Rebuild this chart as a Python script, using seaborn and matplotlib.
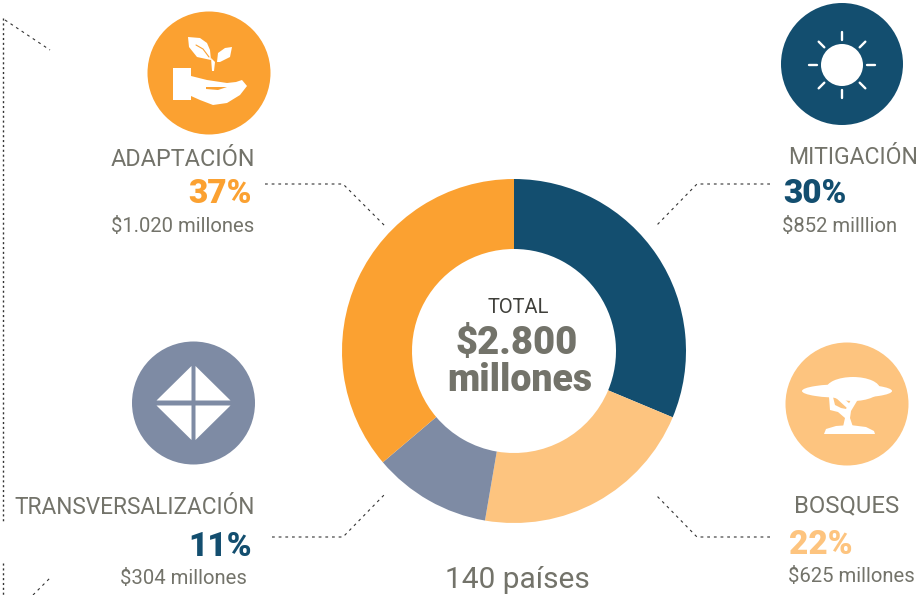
import matplotlib
matplotlib.use("Agg")
import matplotlib.pyplot as plt
from matplotlib.patches import Circle, Ellipse, Polygon
import numpy as np
import seaborn as sns

# Values, clockwise from the top
categories = ["MITIGACIÓN", "BOSQUES", "TRANSVERSALIZACIÓN", "ADAPTACIÓN"]
wedge_shares = [31.3, 21.4, 11.1, 36.2]  # as drawn, slightly off the printed percentages
percents = ["30%", "22%", "11%", "37%"]
amount_labels = ["$852 milllion", "$625 millones", "$304 millones", "$1.020 millones"]
total_label = "$2.800"
total_unit = "millones"
countries_label = "140 países"

NAVY = "#134e6f"
LIGHT = "#fdc47f"
SLATE = "#7e8ba4"
ORANGE = "#fba131"
GREY = "#73736a"
colors = [NAVY, LIGHT, SLATE, ORANGE]

sns.set_theme(style="white")
plt.rcParams["font.family"] = ["Roboto", "DejaVu Sans"]

W, H = 920, 595
fig = plt.figure(figsize=(W / 100, H / 100), dpi=100, facecolor="white")

# Donut
cx, cy, radius = 514, 351, 172
ax_pie = fig.add_axes([(cx - radius) / W, 1 - (cy + radius) / H, 2 * radius / W, 2 * radius / H])
ax_pie.pie(wedge_shares, colors=colors, startangle=90, counterclock=False, radius=1,
           wedgeprops=dict(width=70 / 172, linewidth=0))
ax_pie.set_xlim(-1, 1)
ax_pie.set_ylim(-1, 1)

# Overlay in pixel coordinates for the icons, labels and leader lines
ax = fig.add_axes([0, 0, 1, 1], facecolor="none")
ax.set_xlim(0, W)
ax.set_ylim(H, 0)
ax.axis("off")


def dashed(xs, ys, ls=(0, (2.5, 3.5)), lw=0.8):
    ax.plot(xs, ys, color="#333333", lw=lw, ls=ls)


dashed([265, 343, 385], [184, 184, 226])
dashed([770, 697, 656], [184, 184, 226])
dashed([272, 343, 385], [537, 537, 494])
dashed([770, 697, 656], [537, 537, 495])
dashed([3.5, 3.5], [18, 521], ls=(0, (1.5, 2)), lw=1.0)
dashed([3.5, 3.5], [563, 595], ls=(0, (1.5, 2)), lw=1.0)
dashed([5, 50], [20, 50])
dashed([33, 50], [595, 578])

# Icon discs
ax.add_patch(Circle((209, 73), 61.5, color=ORANGE, lw=0))
ax.add_patch(Circle((842, 64), 61, color=NAVY, lw=0))
ax.add_patch(Circle((193.5, 403), 61.5, color=SLATE, lw=0))
ax.add_patch(Circle((847, 404), 61.5, color=LIGHT, lw=0))

# Hand with sprout
ax.add_patch(Polygon([(173, 68), (191, 68), (191, 76), (207, 80), (227, 83), (236, 82), (242, 80),
                      (247, 86), (240, 95), (227, 103), (213, 105), (200, 100),
                      (191, 96), (191, 100), (173, 100)], color="white", lw=0))
ax.add_patch(Polygon([(206, 87), (218, 87), (227, 87), (218, 90), (206, 89)], color=ORANGE, lw=0))
ax.add_patch(Polygon([(188, 37), (200, 38), (207, 43), (210, 50), (211, 60), (197, 57), (189, 47)],
                     color="white", lw=0))
ax.add_patch(Polygon([(232, 47), (230, 57), (220, 62), (217, 62), (218, 53), (225, 48)],
                     color="white", lw=0))
ax.add_patch(Polygon([(211, 58), (215, 62), (214, 71), (212, 71)], color="white", lw=0))
ax.plot([196, 203, 209], [45, 49, 57], color=ORANGE, lw=0.8)

# Sun
ax.add_patch(Circle((842, 65), 21, color="white", lw=0))
for ang in np.arange(0, 360, 45):
    a = np.deg2rad(ang)
    ax.plot([842 + 25 * np.cos(a), 842 + 33 * np.cos(a)], [65 + 25 * np.sin(a), 65 + 33 * np.sin(a)],
            color="white", lw=1.7, solid_capstyle="round")

# Diamond split in four
for sx, sy in [(-1, -1), (1, -1), (-1, 1), (1, 1)]:
    ax.add_patch(Polygon([(193.5 + sx * 2, 403 + sy * 2.5), (193.5 + sx * 37, 403 + sy * 2.5),
                          (193.5 + sx * 2, 403 + sy * 37)], color="white", lw=0))

# Tree
ax.add_patch(Ellipse((847, 391), 90, 14, color="white", lw=0))
ax.add_patch(Ellipse((853, 389), 54, 24, color="white", lw=0))
ax.add_patch(Polygon([(824, 434), (826, 429), (836, 426), (850, 425), (866, 427), (874, 431), (875, 434)],
                     color="white", lw=0))
ax.add_patch(Polygon([(843, 427), (845, 418), (838, 412), (830, 410), (829, 397), (833, 397), (835, 405),
                      (841, 408), (846, 409), (853, 396), (860, 396), (851, 411), (850, 418), (853, 427)],
                     color="white", lw=0))
ax.add_patch(Polygon([(835, 397), (842, 397), (850, 404), (847, 408)], color="white", lw=0))

# Labels
name_xy = [(853, 158), (847, 505.5), (135, 508), (183, 160)]
pct_xy = [(847, 194), (853, 545), (252, 547), (252, 194)]
amount_xy = [(782, 226.5), (788, 576.5), (183.5, 578.5), (183, 226.5)]
pct_colors = [NAVY, LIGHT, NAVY, ORANGE]
name_sizes = [16.6, 17.2, 16.3, 16.8]

for i in range(4):
    ax.text(*name_xy[i], categories[i], fontsize=name_sizes[i], color=GREY, ha="center", va="center")
    ax.text(*pct_xy[i], percents[i], fontsize=24, color=pct_colors[i], fontweight="black",
            ha="right", va="center")
    ax.text(*amount_xy[i], amount_labels[i], fontsize=14.6, color=GREY,
            ha="left" if i < 2 else "center", va="center")

# Centre of the donut
ax.text(518, 307.5, "TOTAL", fontsize=14.5, color="#3f3f3a", ha="center", va="center")
ax.text(516.5, 343, total_label, fontsize=27.5, color=GREY, fontweight="black", ha="center", va="center")
ax.text(520, 380.5, total_unit, fontsize=27, color=GREY, fontweight="black", ha="center", va="center")
ax.text(517.5, 580, countries_label, fontsize=21.5, color=GREY, ha="center", va="center")

fig.savefig("out.png", dpi=100)
